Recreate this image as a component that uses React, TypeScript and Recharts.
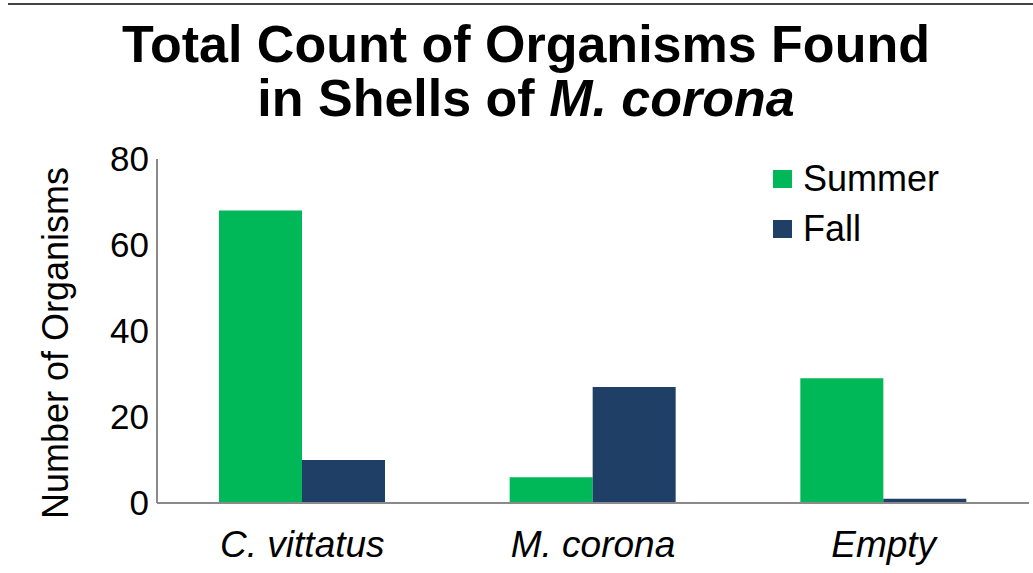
import { BarChart, Bar, XAxis, YAxis } from 'recharts';

const categories = ['C. vittatus', 'M. corona', 'Empty'];
const summer = [68, 6, 29];
const fall = [10, 27, 1];
const yTicks = [0, 20, 40, 60, 80];

const GREEN = '#00B858';
const NAVY = '#1F3F67';
const FONT = '"Liberation Sans", Arial, sans-serif';

const data = categories.map((name, i) => ({ name, summer: summer[i], fall: fall[i] }));
const series = [
  { key: 'summer', name: 'Summer', color: GREEN },
  { key: 'fall', name: 'Fall', color: NAVY },
];

const LegendBox = () => (
  <div style={{ position: 'absolute', left: 773, top: 154, fontFamily: FONT, fontSize: 36, color: '#000' }}>
    {series.map((s) => (
      <div key={s.key} style={{ display: 'flex', alignItems: 'center', height: 50 }}>
        <span style={{ width: 19, height: 18, background: s.color, marginRight: 11, display: 'inline-block' }} />
        <span>{s.name}</span>
      </div>
    ))}
  </div>
);

const YLabel = ({ viewBox }: any) => {
  const x = 55;
  const y = viewBox.y + viewBox.height / 2 + 12;
  return (
    <text x={x} y={y} transform={`rotate(-90 ${x} ${y})`} textAnchor="middle" dominantBaseline="central"
      style={{ fontFamily: FONT, fontSize: 36, fill: '#000' }}>
      Number of Organisms
    </text>
  );
};

export default function App() {
  return (
    <div style={{ position: 'fixed', left: 0, top: 0, width: 1033, height: 573, background: '#fff' }}>
      <div style={{ position: 'absolute', left: 8, right: 0, top: 3, height: 2, background: '#444' }} />
      <div style={{
        position: 'absolute', left: 0, width: 1052, top: 17, textAlign: 'center',
        fontFamily: FONT, fontWeight: 'bold', fontSize: 52, lineHeight: '54px', color: '#000',
      }}>
        <div>Total Count of Organisms Found</div>
        <div>in Shells of <i>M. corona</i></div>
      </div>
      <BarChart width={1033} height={573} data={data} barGap={0} barSize={83}
        margin={{ top: 159, right: 4, bottom: 0, left: 0 }}>
        <XAxis dataKey="name" axisLine={{ stroke: '#8a8a8a', strokeWidth: 2 }} tickLine={false}
          tickMargin={22} height={70}
          tick={{ fontFamily: FONT, fontSize: 37, fontStyle: 'italic', fill: '#000' }} />
        <YAxis domain={[0, 80]} ticks={yTicks} width={157} axisLine={{ stroke: '#8a8a8a', strokeWidth: 2 }}
          tickLine={false} interval={0}
          tick={{ fontFamily: FONT, fontSize: 35, fill: '#000' }}
          label={<YLabel />} />
        {series.map((s) => (
          <Bar key={s.key} dataKey={s.key} name={s.name} fill={s.color} isAnimationActive={false} />
        ))}
      </BarChart>
      <LegendBox />
    </div>
  );
}
